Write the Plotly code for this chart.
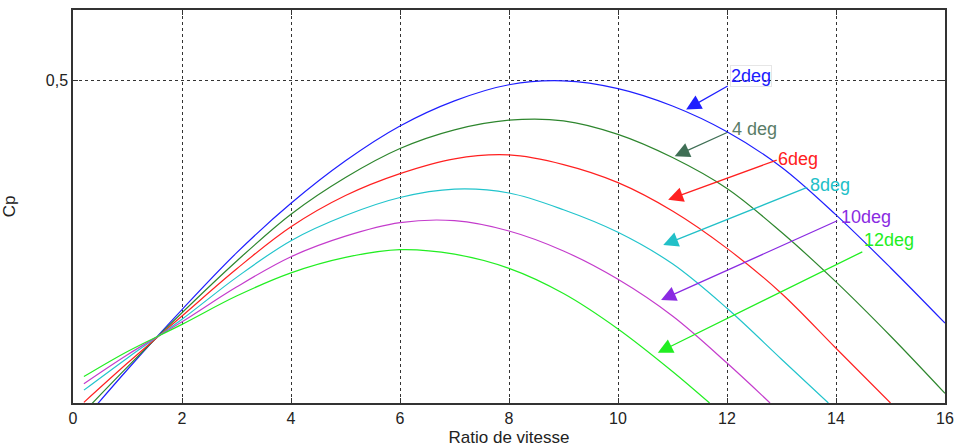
import plotly.graph_objects as go

# Speed ratio (lambda) sampling points
lam = [0.2, 1, 2, 3, 4, 5, 6, 7, 8, 9, 10, 11, 12, 13, 14, 15, 16]

cp_2deg = [-0.026, 0.052, 0.145, 0.233, 0.310, 0.376, 0.430, 0.469, 0.494, 0.500, 0.488, 0.461, 0.421, 0.366, 0.292, 0.210, 0.124]
cp_4deg = [-0.014, 0.056, 0.140, 0.220, 0.293, 0.350, 0.395, 0.424, 0.439, 0.438, 0.417, 0.381, 0.333, 0.265, 0.188, 0.104, 0.015]

lam_6 = [0.2, 1, 2, 3, 4, 5, 6, 7, 8, 9, 10, 11, 12, 13, 14, 15]
cp_6deg = [0.001, 0.062, 0.135, 0.208, 0.2735, 0.322, 0.356, 0.379, 0.385, 0.370, 0.342, 0.298, 0.240, 0.170, 0.085, 0.0]

lam_8 = [0.2, 1, 2, 3, 4, 5, 6, 7, 8, 9, 10, 11, 12, 13, 13.86]
cp_8deg = [0.020, 0.070, 0.130, 0.195, 0.252, 0.291, 0.319, 0.332, 0.326, 0.300, 0.265, 0.216, 0.147, 0.068, 0.0]

lam_10 = [0.2, 1, 2, 3, 4, 5, 6, 7, 8, 9, 10, 11, 12, 12.79]
cp_10deg = [0.030, 0.075, 0.126, 0.180, 0.227, 0.259, 0.280, 0.283, 0.267, 0.236, 0.192, 0.135, 0.062, 0.0]

lam_12 = [0.2, 1, 2, 3, 4, 5, 6, 7, 8, 9, 10, 11, 11.68]
cp_12deg = [0.041, 0.080, 0.122, 0.166, 0.202, 0.226, 0.238, 0.231, 0.209, 0.170, 0.115, 0.049, 0.0]

labels = ["2deg", "4 deg", "6deg", "8deg", "10deg", "12deg"]
line_colors = ["#1f1fff", "#2e862e", "#ff2020", "#22c4cc", "#c43ccc", "#22ee22"]
label_colors = ["#2020ff", "#5a7c68", "#ff2020", "#22c0c8", "#8a2be2", "#22ee22"]
arrow_colors = ["#1f1fff", "#3f6f55", "#ff2020", "#22c0c8", "#8a2be2", "#22ee22"]

# arrow heads (on curves) and tails (near labels), data coordinates
head_x = [11.25, 11.04, 10.92, 10.83, 10.79, 10.73]
head_y = [0.4556, 0.383, 0.3154, 0.2451, 0.1598, 0.078]
tail_x = [12.04, 12.03, 12.94, 13.50, 14.05, 14.51]
tail_y = [0.4933, 0.4209, 0.378, 0.3356, 0.2839, 0.2358]
text_x = [12.06, 12.08, 12.92, 13.50, 14.07, 14.50]
text_y = [0.508, 0.426, 0.3785, 0.338, 0.2886, 0.2529]

x_ticks = [0, 2, 4, 6, 8, 10, 12, 14, 16]
y_ticks = [0.5]
y_ticktext = ["0,5"]

series = [
    (lam, cp_2deg), (lam, cp_4deg), (lam_6, cp_6deg),
    (lam_8, cp_8deg), (lam_10, cp_10deg), (lam_12, cp_12deg),
]

FONT = "Liberation Sans, Arial"

fig = go.Figure()
for (xs, ys), name, col in zip(series, labels, line_colors):
    fig.add_trace(go.Scatter(
        x=xs, y=ys, mode="lines", name=name,
        line=dict(color=col, width=1.2, shape="spline", smoothing=1.0),
        showlegend=False, hoverinfo="skip",
    ))

for i in range(6):
    fig.add_annotation(
        x=head_x[i], y=head_y[i], ax=tail_x[i], ay=tail_y[i],
        xref="x", yref="y", axref="x", ayref="y",
        text="", showarrow=True, arrowhead=2, arrowsize=2.3,
        arrowwidth=1.3, arrowcolor=arrow_colors[i],
    )
    fig.add_annotation(
        x=text_x[i], y=text_y[i], xref="x", yref="y",
        text=labels[i], showarrow=False, xanchor="left", yanchor="middle",
        font=dict(family=FONT, size=18, color=label_colors[i]),
        borderpad=0,
        bordercolor="#e6e6e6" if i == 0 else "rgba(0,0,0,0)", borderwidth=1,
    )

axis_common = dict(
    showline=True, linecolor="#333333", linewidth=1.5, mirror="ticks",
    ticks="inside", ticklen=5, tickcolor="#333333",
    showgrid=True, gridcolor="#333333", gridwidth=1, griddash="3px,3px",
    zeroline=False, automargin=False, ticklabeloverflow="allow",
    tickfont=dict(family=FONT, size=16, color="#222222"),
)

fig.update_xaxes(
    range=[0, 16], tickvals=x_ticks,
    title=dict(text="Ratio de vitesse", standoff=9,
               font=dict(family=FONT, size=17, color="#222222")),
    **axis_common,
)
fig.update_yaxes(
    range=[0, 0.61], tickvals=y_ticks, ticktext=y_ticktext,
    title=dict(text="Cp", standoff=33,
               font=dict(family=FONT, size=17, color="#222222")),
    **axis_common,
)

fig.update_layout(
    width=954, height=447,
    margin=dict(l=73, r=9, t=10, b=44),
    plot_bgcolor="white", paper_bgcolor="white",
)

# remove the default page margin so the figure fills the window exactly
fig.write_html(
    "out.html",
    config={"displayModeBar": False},
    post_script="document.body.style.margin='0';document.documentElement.style.overflow='hidden';",
)
